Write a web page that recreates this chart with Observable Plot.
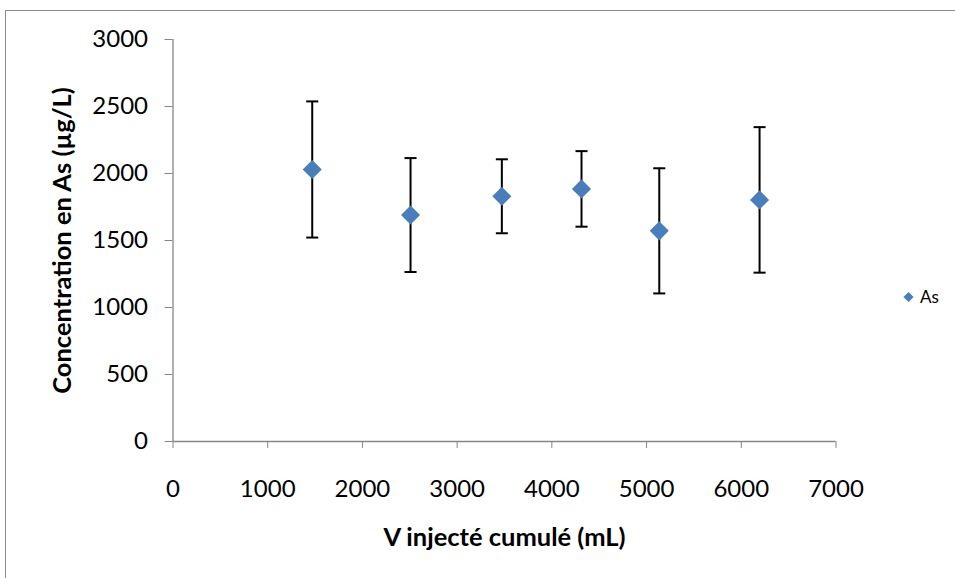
<!DOCTYPE html>
<html>
<head>
<meta charset="utf-8">
<script src="https://cdn.jsdelivr.net/npm/d3@7"></script>
<script src="https://cdn.jsdelivr.net/npm/@observablehq/plot@0.6"></script>
<style>
  html, body { margin: 0; padding: 0; background: #fff; }
  #wrap { position: relative; width: 955px; height: 578px; overflow: hidden; }
  #border { position: absolute; left: 5px; top: 10px; width: 980px; height: 600px; border: 1px solid #8c8c8c; box-sizing: border-box; }
  #chart { position: absolute; left: 0; top: 0; }
</style>
</head>
<body>
<div id="wrap"><div id="border"></div><div id="chart"></div></div>
<script>
// Data
const volume = [1470, 2508, 3472, 4313, 5134, 6193];          // V injecté cumulé (mL)
const concentration = [2030, 1690, 1830, 1885, 1572, 1803];   // As (µg/L)
const errorBar = [508, 425, 276, 282, 467, 543];              // ± (µg/L)
const xTicks = [0, 1000, 2000, 3000, 4000, 5000, 6000, 7000];
const yTicks = [0, 500, 1000, 1500, 2000, 2500, 3000];
const seriesName = "As";
const xTitle = "V injecté cumulé (mL)";
const yTitle = "Concentration en As (µg/L)";

const rows = volume.map((v, i) => ({x: v, y: concentration[i], lo: concentration[i] - errorBar[i], hi: concentration[i] + errorBar[i]}));

const axisGray = "#868686";
const blue = "#4a7ebb";
const fmt = d3.format("d");

// horizontal cap symbol for the error bars
const capSymbol = {
  draw(context, size) {
    const w = Math.sqrt(size) / 2;
    context.moveTo(-w, 0);
    context.lineTo(w, 0);
  }
};

const chart = Plot.plot({
  width: 955,
  height: 578,
  marginLeft: 172.5,
  marginRight: 119.5,
  marginTop: 39,
  marginBottom: 137,
  style: {fontFamily: "Lato, 'Open Sans', sans-serif", fontSize: "24px", color: "black", background: "transparent", overflow: "visible"},
  x: {domain: [0, 7000]},
  y: {domain: [0, 3000]},
  marks: [
    Plot.axisY({ticks: yTicks, tickFormat: fmt, tickSize: 8, tickPadding: 17, stroke: axisGray, fill: "black", fontSize: 24, label: null}),
    Plot.axisX({ticks: xTicks, tickFormat: fmt, tickSize: 7, tickPadding: 31, stroke: axisGray, fill: "black", fontSize: 24, label: null}),
    Plot.ruleX([0], {stroke: axisGray, strokeWidth: 1.3}),
    Plot.ruleY([0], {stroke: axisGray, strokeWidth: 1.3}),
    Plot.ruleX(rows, {x: "x", y1: "lo", y2: "hi", stroke: "black", strokeWidth: 2}),
    Plot.dot(rows, {x: "x", y: "lo", symbol: capSymbol, r: 6.8, stroke: "black", strokeWidth: 2, fill: "none"}),
    Plot.dot(rows, {x: "x", y: "hi", symbol: capSymbol, r: 6.8, stroke: "black", strokeWidth: 2, fill: "none"}),
    Plot.dot(rows, {x: "x", y: "y", symbol: "diamond2", r: 8.6, fill: blue, stroke: "none"}),
    // axis titles
    Plot.text([yTitle], {frameAnchor: "left", dx: -110, rotate: -90, textAnchor: "middle", lineAnchor: "middle", fontWeight: "bold", fontSize: 25.5, fill: "black"}),
    Plot.text([xTitle], {frameAnchor: "bottom", dy: 96, textAnchor: "middle", lineAnchor: "middle", fontWeight: "bold", fontSize: 25.5, fill: "black"}),
    // legend
    Plot.dot([seriesName], {frameAnchor: "right", dx: 72.5, dy: 56.5, symbol: "diamond2", r: 4.6, fill: blue, stroke: "none"}),
    Plot.text([seriesName], {frameAnchor: "right", dx: 84, dy: 57, textAnchor: "start", lineAnchor: "middle", fontSize: 17, fill: "black"})
  ]
});
document.getElementById("chart").appendChild(chart);
</script>
</body>
</html>
